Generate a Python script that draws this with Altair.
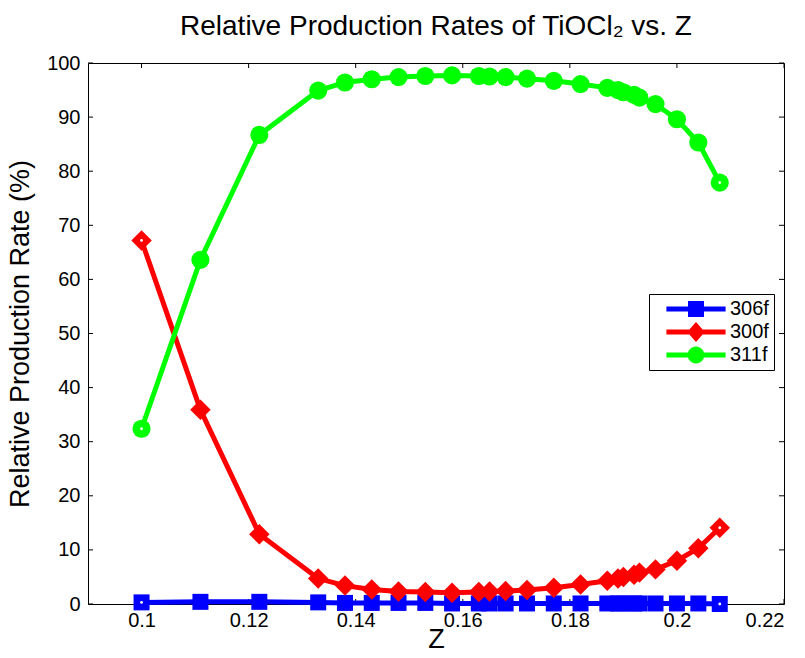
import altair as alt
import pandas as pd

# ---- data ----
z_values = [0.100, 0.111, 0.122, 0.133, 0.138, 0.143, 0.148, 0.153, 0.158, 0.163,
            0.165, 0.168, 0.172, 0.177, 0.182, 0.187, 0.189, 0.190, 0.192, 0.193,
            0.196, 0.200, 0.204, 0.208]
rate_306f = [0.3, 0.4, 0.4, 0.3, 0.2, 0.2, 0.2, 0.2, 0.1, 0.1, 0.1, 0.1, 0.1, 0.1,
             0.1, 0.1, 0.1, 0.1, 0.1, 0.1, 0.1, 0.1, 0.1, 0.0]
rate_300f = [67.2, 35.9, 12.9, 4.7, 3.4, 2.7, 2.3, 2.2, 2.1, 2.2, 2.3, 2.4, 2.6, 3.0,
             3.6, 4.3, 4.7, 5.0, 5.4, 5.8, 6.4, 8.0, 10.3, 14.1]
rate_311f = [32.4, 63.6, 86.7, 94.9, 96.4, 97.0, 97.4, 97.6, 97.7, 97.6, 97.5, 97.4,
             97.1, 96.7, 96.1, 95.4, 95.0, 94.6, 94.1, 93.6, 92.4, 89.6, 85.3, 77.9]

series_names = ["306f", "300f", "311f"]
series_colors = ["#0000ff", "#ff0000", "#00ff00"]
series_shapes = ["square", "diamond", "circle"]
series_sizes = [256, 420, 330]

x_ticks = [0.1, 0.12, 0.14, 0.16, 0.18, 0.2, 0.22]
y_ticks = [0, 10, 20, 30, 40, 50, 60, 70, 80, 90, 100]

rows = []
for name, vals in zip(series_names, [rate_306f, rate_300f, rate_311f]):
    for i, (zv, v) in enumerate(zip(z_values, vals)):
        rows.append({"Z": zv, "rate": v, "series": name,
                     "end": i == 0 or i == len(z_values) - 1})
df = pd.DataFrame(rows)
xt = pd.DataFrame({"Z": x_ticks})
yt = pd.DataFrame({"rate": y_ticks})

W, H = 696, 541
FONT = "Liberation Sans"
TICK = 5

xscale = alt.Scale(domain=[0.09, 0.22], nice=False, zero=False)
yscale = alt.Scale(domain=[0, 100], nice=False, zero=False)

x_bottom = alt.Axis(values=x_ticks, format=".2~f", title="Z", ticks=False, tickSize=0,
                    domain=False, labelPadding=6, grid=False,
                    titleY=43, titleBaseline="alphabetic",
                    labelFont=FONT, labelFontSize=20, labelColor="black",
                    titleFont=FONT, titleFontSize=27, titleFontWeight="normal",
                    titleColor="black")
y_left = alt.Axis(values=y_ticks, title="Relative Production Rate (%)", ticks=False,
                  tickSize=0, domain=False, labelPadding=8, titlePadding=12, grid=False,
                  labelFont=FONT, labelFontSize=20, labelColor="black",
                  titleFont=FONT, titleFontSize=27, titleFontWeight="normal",
                  titleColor="black")

xe = alt.X("Z:Q", scale=xscale, axis=x_bottom)
ye = alt.Y("rate:Q", scale=yscale, axis=y_left)

# inward tick marks on all four sides
tick_bottom = alt.Chart(xt).mark_rule(color="black", strokeWidth=1).encode(
    x=xe, y=alt.value(H), y2=alt.value(H - TICK))
tick_top = alt.Chart(xt).mark_rule(color="black", strokeWidth=1).encode(
    x=xe, y=alt.value(0), y2=alt.value(TICK))
tick_left = alt.Chart(yt).mark_rule(color="black", strokeWidth=1).encode(
    y=ye, x=alt.value(0), x2=alt.value(TICK))
tick_right = alt.Chart(yt).mark_rule(color="black", strokeWidth=1).encode(
    y=ye, x=alt.value(W), x2=alt.value(W - TICK))

layers = [tick_bottom, tick_top, tick_left, tick_right]

for name, col, shp, sz in zip(series_names, series_colors, series_shapes, series_sizes):
    base = alt.Chart(df).transform_filter(alt.datum.series == name)
    layers.append(base.mark_line(color=col, strokeWidth=5).encode(x=xe, y=ye))
    layers.append(base.mark_point(shape=shp, filled=True, color=col, size=sz, opacity=1)
                  .encode(x=xe, y=ye))
    layers.append(base.transform_filter(alt.datum.end).mark_point(
        shape="circle", filled=True, color="white", size=8, opacity=1).encode(x=xe, y=ye))

# legend: symbols combining line segment + marker
legend_paths = [
    "M-3.7,-0.32H3.7V0.32H-3.7Z M-1,-1H1V1H-1Z",
    "M-3.7,-0.32H3.7V0.32H-3.7Z M0,-1.25L1.1,0L0,1.25L-1.1,0Z",
    "M-3.7,-0.32H3.7V0.32H-3.7Z M-1.05,0A1.05,1.05 0 1,1 1.05,0A1.05,1.05 0 1,1 -1.05,0Z",
]


def make_legend():
    return alt.Legend(title=None, orient="none", legendX=561, legendY=231,
                      padding=5, rowPadding=3, symbolSize=256,
                      symbolOffset=32, labelOffset=24,
                      symbolStrokeWidth=0, symbolOpacity=1,
                      labelFont=FONT, labelFontSize=20, labelColor="black",
                      strokeColor="black", fillColor="white")


legend_layer = alt.Chart(df).transform_filter("false").mark_point(filled=True, opacity=1).encode(
    x=xe, y=ye,
    color=alt.Color("series:N", scale=alt.Scale(domain=series_names, range=series_colors),
                    legend=make_legend()),
    shape=alt.Shape("series:N", scale=alt.Scale(domain=series_names, range=legend_paths),
                    legend=make_legend()),
)
layers.append(legend_layer)

chart = alt.layer(*layers).properties(
    width=W, height=H,
    background="white",
    title=alt.TitleParams("Relative Production Rates of TiOCl₂ vs. Z", font=FONT,
                          fontSize=28, fontWeight="normal", color="black",
                          anchor="middle", offset=12),
    autosize=alt.AutoSizeParams(type="none"),
    padding={"left": 88, "top": 63, "right": 21, "bottom": 54},
).configure_view(stroke="black", strokeWidth=1)

chart.save("out.html", embed_options={"renderer": "svg", "actions": False})
